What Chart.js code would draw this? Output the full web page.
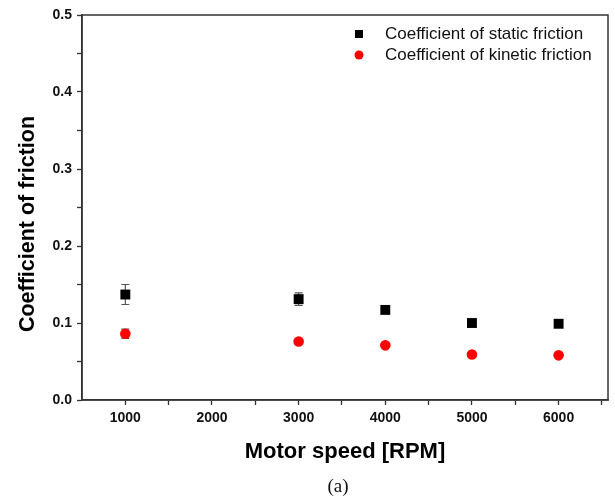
<!DOCTYPE html>
<html>
<head>
<meta charset="utf-8">
<script src="https://cdn.jsdelivr.net/npm/chart.js@4.4.1/dist/chart.umd.min.js"></script>
<style>
    body { margin: 0; background: #fff; }
    #wrap { width: 615px; height: 499px; position: relative; }
</style>
</head>
<body>
<div id="wrap"><canvas id="myChart"></canvas></div>
<script>
// Motor speed [RPM]
const speeds = [1000, 3000, 4000, 5000, 6000];
// Coefficient of static friction + error
const staticCof = [0.137, 0.131, 0.117, 0.100, 0.099];
const staticErr = [0.013, 0.008, 0.003, 0.004, 0.003];
// Coefficient of kinetic friction + error
const kineticCof = [0.086, 0.076, 0.071, 0.059, 0.058];
const kineticErr = [0.006, 0.003, 0.002, 0.002, 0.002];

const xTicks = [1000, 1500, 2000, 2500, 3000, 3500, 4000, 4500, 5000, 5500, 6000, 6500];
const yTicks = [0, 0.05, 0.1, 0.15, 0.2, 0.25, 0.3, 0.35, 0.4, 0.45, 0.5];

const axisColor = '#333';
const sans = '"Liberation Sans", Arial, sans-serif';

function toPoints(ys, errs) {
    return speeds.map((x, i) => ({x, y: ys[i], err: errs[i]}));
}

// Error bars drawn from data through the scales
const errorBars = {
    id: 'errorBars',
    beforeDatasetsDraw(chart) {
        const ctx = chart.ctx;
        const xs = chart.scales.x, ys = chart.scales.y;
        ctx.save();
        ctx.strokeStyle = '#555';
        ctx.lineWidth = 1.2;
        chart.data.datasets.forEach(ds => {
            ds.data.forEach(p => {
                if (!p.err) return;
                const px = xs.getPixelForValue(p.x);
                const top = ys.getPixelForValue(p.y + p.err);
                const bot = ys.getPixelForValue(p.y - p.err);
                ctx.beginPath();
                ctx.moveTo(px, top); ctx.lineTo(px, bot);
                ctx.moveTo(px - 4, top); ctx.lineTo(px + 4, top);
                ctx.moveTo(px - 4, bot); ctx.lineTo(px + 4, bot);
                ctx.stroke();
            });
        });
        ctx.restore();
    }
};

// Frame, y title, legend and caption
const decor = {
    id: 'decor',
    afterDraw(chart) {
        const ctx = chart.ctx;
        const a = chart.chartArea;
        ctx.save();
        ctx.strokeStyle = axisColor;
        ctx.lineWidth = 1.5;
        ctx.strokeRect(a.left, a.top, a.right - a.left, a.bottom - a.top);

        // y axis title
        ctx.save();
        ctx.translate(28, 224);
        ctx.rotate(-Math.PI / 2);
        ctx.font = 'bold 21.5px ' + sans;
        ctx.fillStyle = '#000';
        ctx.textAlign = 'center';
        ctx.textBaseline = 'middle';
        ctx.fillText('Coefficient of friction', 0, 0);
        ctx.restore();

        // legend
        const lx = 359, ly = 34, gap = 21;
        ctx.font = '17px ' + sans;
        ctx.textBaseline = 'middle';
        ctx.textAlign = 'left';
        chart.data.datasets.forEach((ds, i) => {
            const y = ly + i * gap;
            ctx.fillStyle = ds.backgroundColor;
            if (ds.pointStyle === 'rect') {
                ctx.fillRect(lx - 4, y - 4, 8, 8);
            } else {
                ctx.beginPath();
                ctx.arc(lx, y, 4.5, 0, Math.PI * 2);
                ctx.fill();
            }
            ctx.fillStyle = '#111';
            ctx.fillText(ds.label, lx + 26, y);
        });

        // caption
        ctx.font = '19px "Liberation Serif", "Times New Roman", serif';
        ctx.textAlign = 'center';
        ctx.fillStyle = '#111';
        ctx.fillText('(a)', 338, 487);
        ctx.restore();
    }
};

const config = {
    type: 'scatter',
    data: {
        datasets: [{
            label: 'Coefficient of static friction',
            data: toPoints(staticCof, staticErr),
            pointStyle: 'rect',
            pointRadius: 7,
            backgroundColor: '#000',
            borderColor: '#000',
            borderWidth: 0
        }, {
            label: 'Coefficient of kinetic friction',
            data: toPoints(kineticCof, kineticErr),
            pointStyle: 'circle',
            pointRadius: 5.3,
            backgroundColor: '#ff0000',
            borderColor: '#ff0000',
            borderWidth: 0
        }]
    },
    options: {
        responsive: true,
        maintainAspectRatio: false,
        animation: false,
        layout: {
            padding: {left: 0, right: 5, top: 15, bottom: 30}
        },
        scales: {
            x: {
                type: 'linear',
                min: 500,
                max: 6570,
                afterBuildTicks: axis => { axis.ticks = xTicks.map(v => ({value: v})); },
                afterFit: scale => { scale.height = 69; },
                border: {color: axisColor, width: 1.5},
                grid: {drawOnChartArea: false, tickLength: 5, tickColor: axisColor, tickWidth: 1.3},
                ticks: {
                    autoSkip: false,
                    maxRotation: 0,
                    padding: 5,
                    color: '#111',
                    font: {family: sans, size: 14, weight: 'bold'},
                    callback: v => v % 1000 === 0 ? String(v) : ''
                },
                title: {
                    display: true,
                    text: 'Motor speed [RPM]',
                    color: '#000',
                    padding: {top: 0, bottom: 4},
                    font: {family: sans, size: 22, weight: 'bold'}
                }
            },
            y: {
                min: 0,
                max: 0.5,
                afterBuildTicks: axis => { axis.ticks = yTicks.map(v => ({value: v})); },
                afterFit: scale => { scale.width = 82; },
                border: {color: axisColor, width: 1.5},
                grid: {drawOnChartArea: false, tickLength: 5, tickColor: axisColor, tickWidth: 1.3},
                ticks: {
                    autoSkip: false,
                    padding: 5,
                    color: '#111',
                    font: {family: sans, size: 14, weight: 'bold'},
                    callback: v => Math.round(v * 100) % 10 === 0 ? v.toFixed(1) : ''
                },
                title: {display: false}
            }
        },
        plugins: {
            legend: {display: false},
            tooltip: {enabled: false}
        }
    },
    plugins: [errorBars, decor]
};

const chart = new Chart(document.getElementById('myChart'), config);
</script>
</body>
</html>
